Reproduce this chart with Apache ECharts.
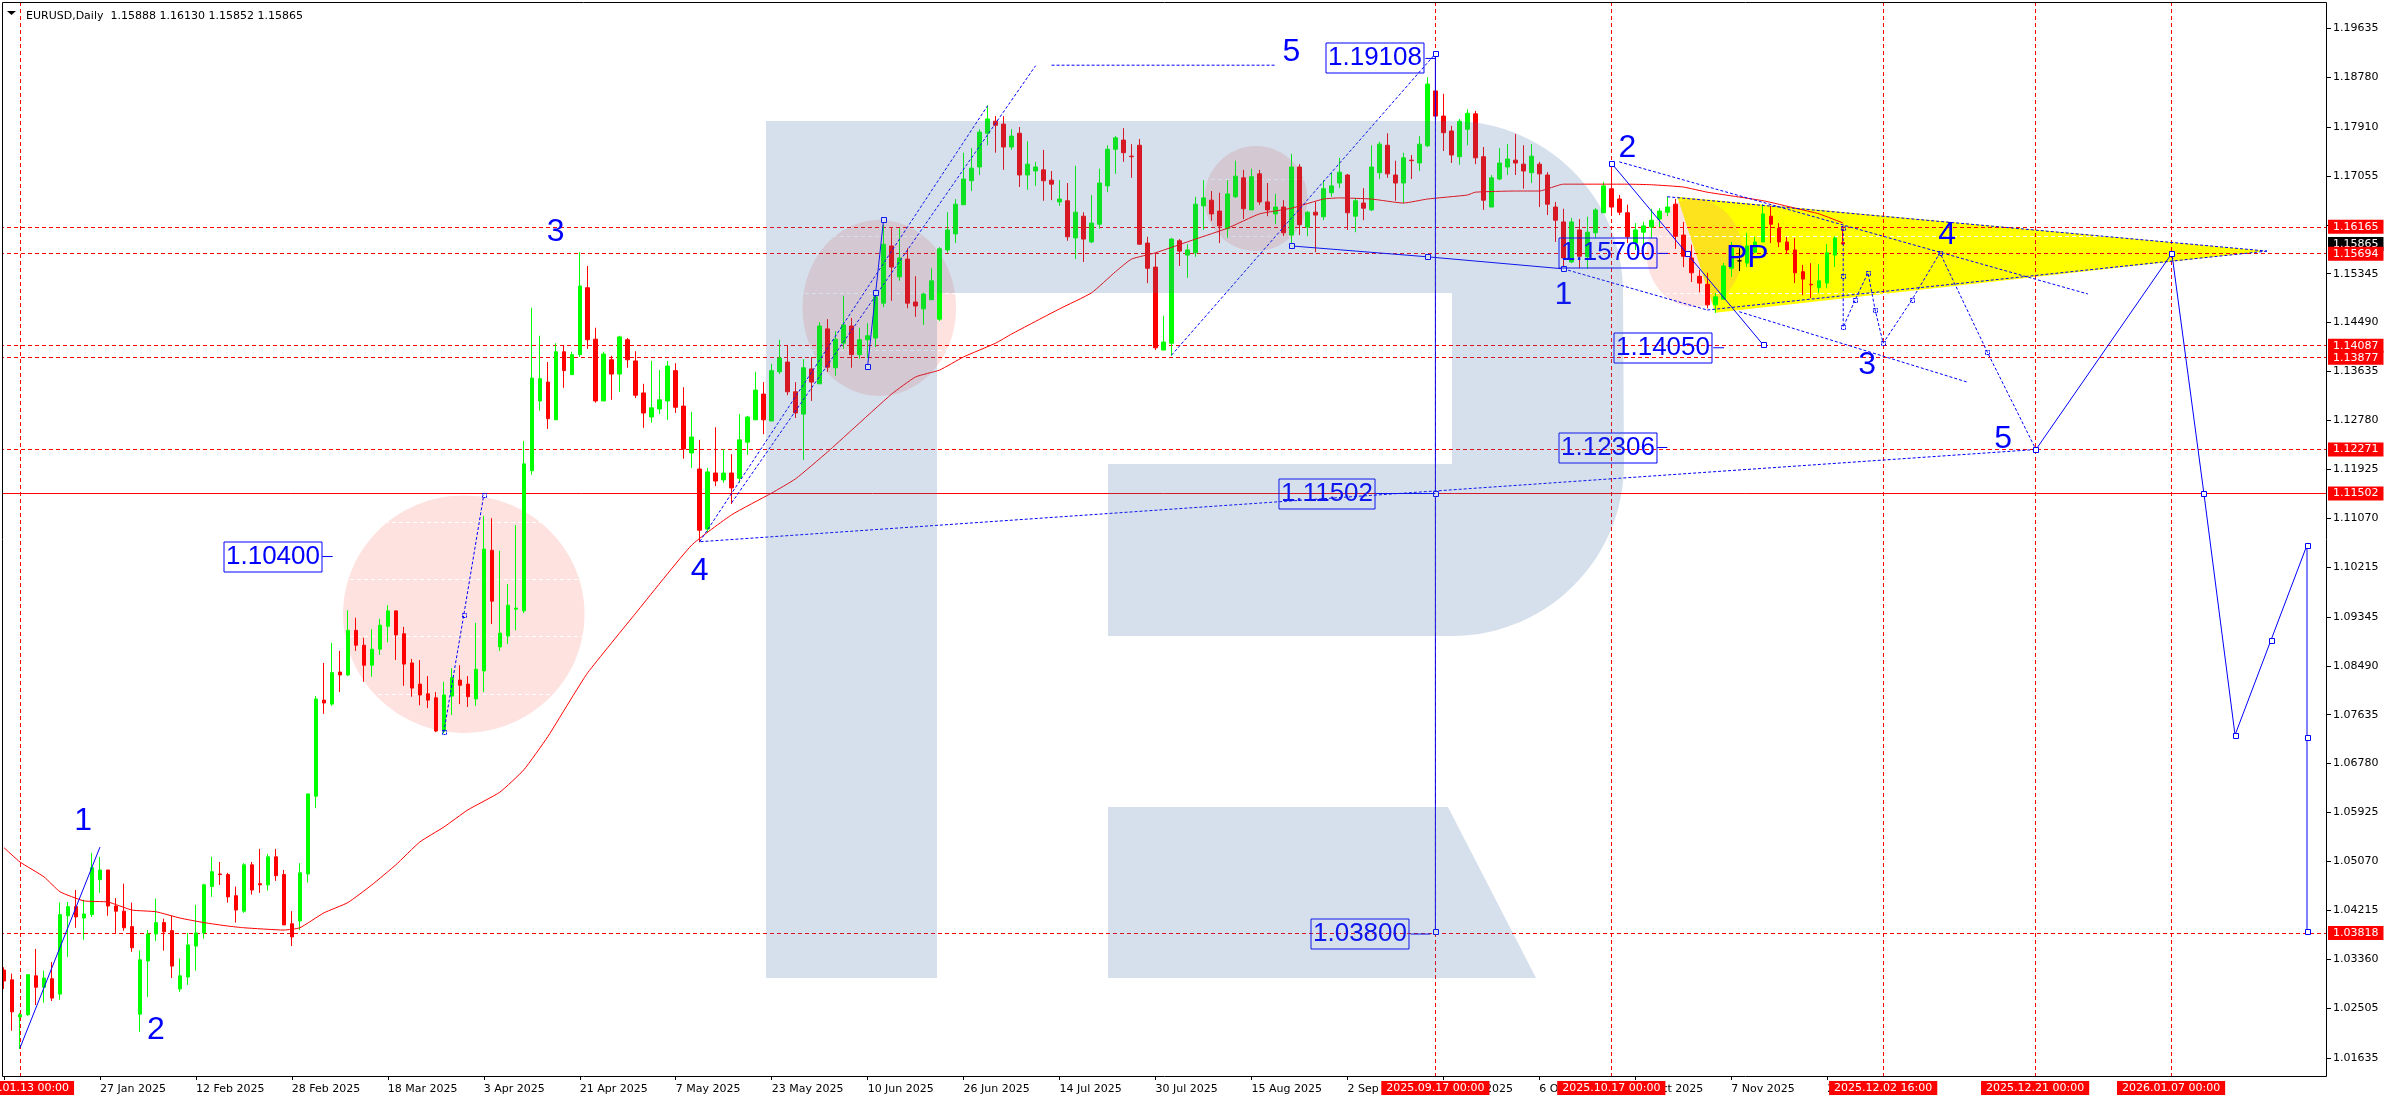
<!DOCTYPE html>
<html><head><meta charset="utf-8">
<style>html,body{margin:0;padding:0;background:#fff}#c{width:2390px;height:1100px}</style>
<script src="https://cdn.jsdelivr.net/npm/echarts@6/dist/echarts.min.js"></script>
</head><body><div id="c"></div>
<script>
// bar rows: [open, high, low, close], starting 9 Jan 2025 (bar -2); bar 0 is 13 Jan 2025
const ohlc = [
[1.0317,1.0322,1.0284,1.0298],[1.0300,1.0311,1.0211,1.0244],[1.0235,1.0242,1.0179,1.0239],[1.0239,1.0309,1.0237,1.0309],
[1.0307,1.0354,1.0256,1.0287],[1.0287,1.0316,1.0260,1.0303],[1.0302,1.0331,1.0263,1.0268],[1.0275,1.0435,1.0265,1.0414],
[1.0412,1.0436,1.0340,1.0428],[1.0428,1.0457,1.0391,1.0410],[1.0408,1.0440,1.0370,1.0415],[1.0414,1.0522,1.0410,1.0496],
[1.0475,1.0515,1.0452,1.0492],[1.0492,1.0492,1.0412,1.0429],[1.0429,1.0443,1.0382,1.0420],[1.0420,1.0468,1.0386,1.0391],
[1.0393,1.0435,1.0349,1.0356],[1.0240,1.0351,1.0209,1.0335],[1.0333,1.0387,1.0270,1.0380],[1.0380,1.0442,1.0368,1.0400],
[1.0400,1.0407,1.0351,1.0384],[1.0386,1.0412,1.0303,1.0324],[1.0284,1.0337,1.0279,1.0307],[1.0305,1.0382,1.0291,1.0361],
[1.0359,1.0431,1.0316,1.0382],[1.0382,1.0468,1.0372,1.0466],[1.0463,1.0515,1.0445,1.0489],[1.0485,1.0506,1.0466,1.0484],
[1.0484,1.0487,1.0435,1.0445],[1.0447,1.0463,1.0400,1.0422],[1.0420,1.0504,1.0417,1.0501],[1.0501,1.0506,1.0449,1.0457],
[1.0468,1.0529,1.0452,1.0466],[1.0466,1.0520,1.0456,1.0515],[1.0515,1.0529,1.0473,1.0482],[1.0484,1.0492,1.0396,1.0396],
[1.0398,1.0420,1.0359,1.0375],[1.0403,1.0504,1.0387,1.0487],[1.0485,1.0625,1.0470,1.0625],[1.0621,1.0796,1.0600,1.0791],
[1.0789,1.0854,1.0765,1.0784],[1.0782,1.0889,1.0779,1.0837],[1.0838,1.0875,1.0803,1.0833],[1.0833,1.0946,1.0831,1.0911],
[1.0911,1.0933,1.0875,1.0885],[1.0885,1.0898,1.0821,1.0850],[1.0850,1.0913,1.0830,1.0878],[1.0878,1.0931,1.0868,1.0920],
[1.0918,1.0955,1.0890,1.0945],[1.0945,1.0946,1.0859,1.0903],[1.0905,1.0917,1.0814,1.0852],[1.0854,1.0861,1.0795,1.0810],
[1.0817,1.0859,1.0780,1.0798],[1.0800,1.0831,1.0775,1.0789],[1.0793,1.0803,1.0733,1.0735],[1.0735,1.0821,1.0731,1.0798],
[1.0796,1.0845,1.0763,1.0828],[1.0824,1.0850,1.0782,1.0815],[1.0817,1.0831,1.0777,1.0795],[1.0791,1.0924,1.0779,1.0843],
[1.0840,1.1111,1.0803,1.1053],[1.1051,1.1107,1.0922,1.0962],[1.0882,1.1050,1.0875,1.0906],[1.0901,1.0992,1.0887,1.0955],
[1.0948,1.1095,1.0911,1.0950],[1.0945,1.1242,1.0941,1.1202],[1.1190,1.1475,1.1183,1.1352],[1.1312,1.1426,1.1295,1.1351],
[1.1345,1.1380,1.1263,1.1281],[1.1279,1.1413,1.1279,1.1398],[1.1398,1.1408,1.1335,1.1365],[1.1358,1.1398,1.1358,1.1393],
[1.1393,1.1572,1.1389,1.1513],[1.1510,1.1548,1.1403,1.1419],[1.1420,1.1440,1.1309,1.1312],[1.1312,1.1398,1.1312,1.1394],
[1.1384,1.1391,1.1314,1.1359],[1.1359,1.1426,1.1328,1.1424],[1.1419,1.1422,1.1370,1.1384],[1.1382,1.1399,1.1317,1.1322],
[1.1326,1.1342,1.1265,1.1291],[1.1284,1.1382,1.1274,1.1300],[1.1298,1.1366,1.1289,1.1314],[1.1312,1.1382,1.1279,1.1373],
[1.1365,1.1378,1.1291,1.1301],[1.1303,1.1336,1.1211,1.1228],[1.1221,1.1293,1.1195,1.1249],[1.1193,1.1244,1.1065,1.1086],
[1.1088,1.1195,1.1083,1.1188],[1.1186,1.1266,1.1163,1.1172],[1.1174,1.1228,1.1169,1.1186],[1.1186,1.1219,1.1132,1.1160],
[1.1177,1.1289,1.1169,1.1244],[1.1240,1.1286,1.1218,1.1284],[1.1279,1.1363,1.1279,1.1331],[1.1324,1.1345,1.1254,1.1279],
[1.1277,1.1377,1.1277,1.1365],[1.1363,1.1419,1.1359,1.1387],[1.1380,1.1408,1.1322,1.1328],[1.1328,1.1345,1.1282,1.1291],
[1.1289,1.1385,1.1209,1.1370],[1.1368,1.1389,1.1312,1.1345],[1.1342,1.1450,1.1342,1.1443],[1.1438,1.1455,1.1363,1.1371],
[1.1370,1.1434,1.1356,1.1420],[1.1413,1.1496,1.1403,1.1445],[1.1443,1.1457,1.1370,1.1393],[1.1393,1.1440,1.1386,1.1419],
[1.1419,1.1448,1.1387,1.1426],[1.1422,1.1501,1.1406,1.1494],[1.1483,1.1620,1.1476,1.1586],[1.1583,1.1614,1.1487,1.1546],
[1.1529,1.1614,1.1522,1.1562],[1.1560,1.1579,1.1474,1.1483],[1.1485,1.1530,1.1459,1.1478],[1.1473,1.1501,1.1445,1.1499],
[1.1489,1.1544,1.1489,1.1522],[1.1455,1.1581,1.1452,1.1578],[1.1576,1.1642,1.1571,1.1611],[1.1604,1.1665,1.1588,1.1656],
[1.1655,1.1746,1.1655,1.1700],[1.1697,1.1754,1.1679,1.1719],[1.1721,1.1787,1.1707,1.1782],[1.1780,1.1829,1.1759,1.1805],
[1.1801,1.1810,1.1746,1.1794],[1.1796,1.1810,1.1716,1.1756],[1.1756,1.1787,1.1751,1.1775],[1.1780,1.1791,1.1686,1.1707],
[1.1707,1.1766,1.1681,1.1726],[1.1714,1.1730,1.1688,1.1721],[1.1716,1.1751,1.1662,1.1697],[1.1698,1.1714,1.1663,1.1691],
[1.1660,1.1698,1.1653,1.1665],[1.1662,1.1693,1.1592,1.1599],[1.1597,1.1723,1.1560,1.1642],[1.1635,1.1642,1.1555,1.1595],
[1.1590,1.1672,1.1588,1.1623],[1.1621,1.1718,1.1613,1.1693],[1.1688,1.1759,1.1677,1.1752],[1.1752,1.1775,1.1709,1.1772],
[1.1768,1.1789,1.1730,1.1746],[1.1740,1.1761,1.1702,1.1739],[1.1759,1.1770,1.1585,1.1586],[1.1588,1.1599,1.1518,1.1544],
[1.1546,1.1571,1.1401,1.1405],[1.1401,1.1461,1.1401,1.1415],[1.1413,1.1597,1.1391,1.1595],[1.1592,1.1595,1.1548,1.1574],
[1.1567,1.1586,1.1527,1.1576],[1.1571,1.1669,1.1564,1.1656],[1.1653,1.1698,1.1611,1.1667],[1.1663,1.1679,1.1627,1.1639],
[1.1644,1.1676,1.1588,1.1618],[1.1613,1.1698,1.1597,1.1674],[1.1669,1.1732,1.1667,1.1705],[1.1702,1.1716,1.1630,1.1648],
[1.1646,1.1718,1.1646,1.1704],[1.1709,1.1716,1.1655,1.1660],[1.1660,1.1693,1.1635,1.1646],[1.1639,1.1674,1.1621,1.1651],
[1.1651,1.1663,1.1600,1.1606],[1.1602,1.1744,1.1585,1.1721],[1.1721,1.1726,1.1602,1.1620],[1.1616,1.1644,1.1600,1.1642],
[1.1642,1.1660,1.1572,1.1637],[1.1634,1.1698,1.1628,1.1683],[1.1676,1.1711,1.1669,1.1688],[1.1693,1.1737,1.1684,1.1712],
[1.1707,1.1709,1.1611,1.1641],[1.1635,1.1667,1.1607,1.1662],[1.1658,1.1684,1.1628,1.1649],[1.1646,1.1759,1.1644,1.1721],
[1.1711,1.1765,1.1700,1.1761],[1.1759,1.1780,1.1702,1.1709],[1.1707,1.1732,1.1662,1.1693],[1.1693,1.1746,1.1658,1.1737],
[1.1733,1.1742,1.1700,1.1732],[1.1728,1.1775,1.1714,1.1761],[1.1758,1.1878,1.1756,1.1866],[1.1854,1.1912,1.1803,1.1810],
[1.1810,1.1849,1.1749,1.1781],[1.1784,1.1793,1.1728,1.1742],[1.1739,1.1805,1.1725,1.1801],[1.1787,1.1822,1.1759,1.1815],
[1.1814,1.1819,1.1726,1.1737],[1.1739,1.1756,1.1646,1.1663],[1.1651,1.1707,1.1651,1.1702],[1.1700,1.1754,1.1698,1.1728],
[1.1721,1.1761,1.1707,1.1735],[1.1733,1.1779,1.1707,1.1728],[1.1726,1.1759,1.1683,1.1714],[1.1711,1.1761,1.1693,1.1740],
[1.1726,1.1730,1.1651,1.1709],[1.1707,1.1712,1.1637,1.1656],[1.1651,1.1660,1.1590,1.1628],[1.1625,1.1648,1.1544,1.1562],
[1.1555,1.1632,1.1553,1.1625],[1.1611,1.1630,1.1544,1.1565],[1.1564,1.1634,1.1543,1.1607],[1.1606,1.1649,1.1597,1.1646],
[1.1641,1.1695,1.1641,1.1688],[1.1683,1.1730,1.1642,1.1651],[1.1665,1.1672,1.1637,1.1642],[1.1641,1.1655,1.1588,1.1599],
[1.1588,1.1623,1.1576,1.1611],[1.1607,1.1625,1.1585,1.1618],[1.1616,1.1648,1.1597,1.1628],[1.1630,1.1649,1.1616,1.1644],
[1.1642,1.1669,1.1635,1.1651],[1.1656,1.1665,1.1578,1.1600],[1.1602,1.1625,1.1546,1.1565],[1.1562,1.1585,1.1520,1.1536],
[1.1530,1.1541,1.1502,1.1518],[1.1516,1.1536,1.1474,1.1480],[1.1480,1.1501,1.1466,1.1494],[1.1490,1.1553,1.1489,1.1548],
[1.1544,1.1590,1.1529,1.1579],[1.1557,1.1579,1.1539,1.1557],[1.1553,1.1606,1.1546,1.1583],[1.1572,1.1599,1.1571,1.1590],
[1.1590,1.1656,1.1590,1.1639],[1.1635,1.1653,1.1588,1.1621],[1.1614,1.1623,1.1581,1.1590],[1.1590,1.1599,1.1569,1.1576],
[1.1576,1.1597,1.1518,1.1536],[1.1538,1.1550,1.1497,1.1525],[1.1516,1.1553,1.1492,1.1515],[1.1510,1.1551,1.1501,1.1522],
[1.1518,1.1586,1.1509,1.1571],[1.1567,1.1600,1.1546,1.1597],[1.15888,1.16130,1.15852,1.15865]
];
const firstBarDate = '2025-01-09';
const barCount = 291;
const tickLabelDates = ['9 Jan 2025','27 Jan 2025','12 Feb 2025','28 Feb 2025','18 Mar 2025','3 Apr 2025','21 Apr 2025','7 May 2025','23 May 2025','10 Jun 2025','26 Jun 2025','14 Jul 2025','30 Jul 2025','15 Aug 2025','2 Sep 2025','18 Sep 2025','6 Oct 2025','22 Oct 2025','7 Nov 2025','25 Nov 2025'];
const priceGrid = [1.19635,1.18780,1.17910,1.17055,1.16200,1.15345,1.14490,1.13635,1.12780,1.11925,1.11070,1.10215,1.09345,1.08490,1.07635,1.06780,1.05925,1.05070,1.04215,1.03360,1.02505,1.01635];
const priceLabelsHidden = [1.16200];
const priceMin = 1.01301, priceMax = 1.20086;

const maBars = [-2,0,3,5,8,11,14,17,20,23,26,28,33,35,38,41,44,47,50,53,56,60,63,66,69,71,77,84,89,94,97,101,104,109,112,115,118,122,124,130,134,137,139,142,147,151,155,159,163,165,169,173,176,181,182,187,190,193,197,201,204,208,211,218,222,225,228];
const maValues = [1.0531,1.0506,1.0480,1.0454,1.0438,1.0436,1.0422,1.0419,1.0408,1.0400,1.0394,1.0391,1.0387,1.0391,1.0417,1.0435,1.0466,1.0501,1.0541,1.0567,1.0597,1.0628,1.0667,1.0725,1.0793,1.0837,1.0941,1.1060,1.1113,1.1151,1.1176,1.1223,1.1261,1.1324,1.1354,1.1366,1.1389,1.1413,1.1429,1.1473,1.1501,1.1538,1.1560,1.1571,1.1595,1.1614,1.1639,1.1649,1.1665,1.1667,1.1665,1.1658,1.1665,1.1672,1.1677,1.1679,1.1679,1.1691,1.1691,1.1691,1.1690,1.1686,1.1677,1.1662,1.1649,1.1639,1.1623];

const dashedLevels = [1.16165,1.15694,1.14087,1.13877,1.12271,1.03818];
const solidLevel = 1.11502;
const currentPrice = 1.15865;
const timeMarkBars = [0,177,199,233,252,269];
const timeMarkLabels = ['2025.01.13 00:00','2025.09.17 00:00','2025.10.17 00:00','2025.12.02 16:00','2025.12.21 00:00','2026.01.07 00:00'];

const triangle = [[207.25,1.1669],[212,1.1466],[281,1.1574]];
const ellipseCenters = [[55.5,1.0939],[107.46,1.14745],[154.56,1.1666],[209.4,1.15707]];
const ellipseRadii = [[15.1,0.02075],[9.6,0.01538],[6.44,0.00918],[6,0.00944]];

const solidPaths = [
  [[106,1.1373],[107,1.1501],[108,1.1630]],
  [[159,1.1583],[176,1.1564],[193,1.1543]],
  [[199,1.1728],[208.5,1.1569],[218,1.1410]],
  [[252.1,1.12271],[269.1,1.1570],[273.1,1.1151],[277,1.0728],[281.5,1.0894],[286,1.1060],[286,1.0723],[286,1.0384]],
  [[177,1.1919],[177,1.1151],[177,1.0384]]
];
const thinLines = [ [[0,1.0181],[10,1.0532]] ];
const dashedPaths = [
  [[53,1.0733],[55.5,1.0938],[58,1.1148]],
  [[228,1.1614],[228,1.1530],[228,1.1441],[229.5,1.1489],[231.1,1.1536],[232,1.1471],[233,1.1413],[236.6,1.1489],[240.1,1.1571],[246,1.1398],[252.1,1.12271]]
];
const dashedLines = [
  [[85.1,1.1066],[252.1,1.12271]],
  [[85,1.1066],[121,1.1828]],
  [[89,1.1134],[127,1.1898]],
  [[129,1.1899],[157,1.1899]],
  [[144,1.1392],[177,1.1919]],
  [[193,1.1543],[211,1.1471]],
  [[215,1.1468],[243.5,1.1345]],
  [[200,1.1730],[258.6,1.1499]],
  [[206,1.1669],[281,1.1574]],
  [[211,1.1471],[281,1.1574]]
];
const priceBoxValues = [1.19108,1.15700,1.14050,1.12306,1.11502,1.10400,1.03800];
const priceBoxBars = [169.5,198.6,205.5,198.6,163.5,31.6,167.6];
const priceBoxLeaders = [[175.75,177],[204.8,206.1],[211.75,213.1],[204.75,206],[169.6,177],[37.8,39.1],[173.9,176.4]];
const waveTexts = ['1','2','3','4','5','1','2','3','4','5','PP'];
const waveBars = [7.9,17,67,85,159,193,201,231,241,248,216];
const wavePrices = [1.0578,1.0212,1.1607,1.1015,1.1922,1.1497,1.1754,1.1375,1.1602,1.1246,1.1562];
const titleText = 'EURUSD,Daily  1.15888 1.16130 1.15852 1.15865';

const UI_FONT = '"DejaVu Sans"';
const BLUE = '#0000ff', RED = '#ff0000';

// weekday categories
const MONTHS = ['Jan','Feb','Mar','Apr','May','Jun','Jul','Aug','Sep','Oct','Nov','Dec'];
const categories = [];
for (let d = new Date(firstBarDate + 'T00:00:00Z'); categories.length < barCount; d.setUTCDate(d.getUTCDate() + 1)) {
  const w = d.getUTCDay();
  if (w !== 0 && w !== 6) categories.push(d.getUTCDate() + ' ' + MONTHS[d.getUTCMonth()] + ' ' + d.getUTCFullYear());
}
const OFFSET = 2; // bar 0 is the third category
const showTick = (idx, val) => tickLabelDates.includes(val);
const at = (api, bar, price) => {
  const k = bar + OFFSET, f = Math.floor(k);
  const pt = api.coord([f, price]);
  return [pt[0] + (k - f) * api.size([1, 0])[0], pt[1]];
};
const drawn = (z, build) => ({
  type: 'custom', coordinateSystem: 'cartesian2d', z, silent: true, clip: false,
  data: [[0, priceGrid[0]]],
  renderItem: (params, api) => ({ type: 'group', children: build(api) })
});
const poly = (api, pts, lineWidth, dash) => ({
  type: 'polyline', shape: { points: pts.map(p => at(api, p[0], p[1])) },
  style: { stroke: BLUE, fill: 'none', lineWidth, lineDash: dash || null }
});
const square = (api, p, size, fill, dash) => {
  const c = at(api, p[0], p[1]);
  return { type: 'rect', shape: { x: Math.round(c[0] - size / 2) + .5, y: Math.round(c[1] - size / 2) + .5, width: size, height: size },
    style: { stroke: BLUE, fill, lineWidth: 1, lineDash: dash || null } };
};

// watermark outline
const arc = (cx, cy, r, from, to) => {
  const out = [];
  for (let n = 0; n <= 30; n++) { const a = (from + (to - from) * n / 30) * Math.PI / 180; out.push([cx + r * Math.cos(a), cy + r * Math.sin(a)]); }
  return out;
};
const WM = 'rgba(65,111,167,0.216)';
const wmBody = [[766,121]].concat(arc(1452,292,171,-90,0), arc(1452,464,172,0,90),
  [[1108,636],[1108,464],[1452,464],[1452,293],[937,293],[937,978],[766,978]]);
const wmLeg = [[1108,807],[1448,807],[1536,978],[1108,978]];

const levelLine = (p, type) => ({ yAxis: p, lineStyle: { color: RED, type, width: 1 },
  label: { show: true, position: 'end', distance: 1, formatter: p.toFixed(5), color: '#fff', backgroundColor: RED, padding: [2, 5, 1, 5], fontFamily: UI_FONT, fontSize: 11 } });

const option = {
  animation: false,
  backgroundColor: '#fff',
  title: { text: titleText, left: 21, top: 6, textStyle: { fontFamily: UI_FONT, fontSize: 11, fontWeight: 'normal', color: '#000' } },
  grid: { left: -1, top: 2.5, width: 2328, height: 1074.5, containLabel: false },
  xAxis: {
    type: 'category', data: categories, boundaryGap: true, position: 'bottom',
    axisLine: { show: false },
    axisTick: { show: true, alignWithLabel: true, interval: showTick, length: 3, lineStyle: { color: '#000' } },
    axisLabel: { interval: showTick, align: 'left', margin: 7, color: '#000', fontFamily: UI_FONT, fontSize: 11, hideOverlap: false },
    splitLine: { show: false }
  },
  yAxis: {
    type: 'value', position: 'right', min: priceMin, max: priceMax, scale: true,
    axisLine: { show: false },
    axisTick: { show: true, length: 4, customValues: priceGrid, lineStyle: { color: '#000' } },
    axisLabel: { margin: 6, color: '#000', fontFamily: UI_FONT, fontSize: 11,
      customValues: priceGrid.filter(v => !priceLabelsHidden.includes(v)), formatter: v => v.toFixed(5) },
    splitLine: { show: false }
  },
  graphic: { elements: [
    { type: 'polygon', z: 100, silent: true, shape: { points: wmBody }, style: { fill: WM } },
    { type: 'polygon', z: 100, silent: true, shape: { points: wmLeg }, style: { fill: WM } },
    { type: 'rect', z: 101, silent: true, shape: { x: 0, y: 0, width: 2, height: 1078 }, style: { fill: '#fff' } },
    { type: 'rect', z: 102, silent: true, shape: { x: 2.5, y: 2.5, width: 2324, height: 1074 }, style: { fill: 'none', stroke: '#000', lineWidth: 1 } },
    { type: 'polygon', z: 102, silent: true, shape: { points: [[7,11],[16,11],[11.5,15]] }, style: { fill: '#000' } }
  ] },
  series: [
    drawn(1, api => [{ type: 'polygon', shape: { points: triangle.map(p => at(api, p[0], p[1])) }, style: { fill: '#ffff00' } }]),
    drawn(2, api => ellipseCenters.map((c, n) => {
      const o = at(api, c[0], c[1]);
      const e = at(api, c[0] + ellipseRadii[n][0], c[1] + ellipseRadii[n][1]);
      return { type: 'ellipse', shape: { cx: o[0], cy: o[1], rx: e[0] - o[0], ry: o[1] - e[1] }, style: { fill: 'rgba(246,133,125,0.24)' } };
    })),
    { type: 'line', z: 3, silent: true, data: [], markLine: { silent: true, animation: false, symbol: ['none', 'none'],
      lineStyle: { color: '#fff', type: [4, 3], width: 1 }, label: { show: false },
      data: priceGrid.map(p => ({ yAxis: p })) } },
    { type: 'line', z: 4, silent: true, data: [], markLine: { silent: true, animation: false, symbol: ['none', 'none'], precision: 5,
      data: [
        { yAxis: currentPrice, lineStyle: { color: 'transparent', width: 0 },
          label: { show: true, position: 'end', distance: 1, formatter: currentPrice.toFixed(5), color: '#fff', backgroundColor: '#000', padding: [2, 5, 1, 5], fontFamily: UI_FONT, fontSize: 11 } },
        levelLine(solidLevel, 'solid')
      ].concat(dashedLevels.map(p => levelLine(p, [4, 3])), timeMarkBars.map((b, n) => ({
        xAxis: categories[b + OFFSET], lineStyle: { color: RED, type: [4, 3], width: 1 },
        label: { show: true, position: 'start', distance: 4, formatter: timeMarkLabels[n], color: '#fff', backgroundColor: RED, padding: [2, 5, 1, 5], fontFamily: UI_FONT, fontSize: 11 }
      }))) } },
    { type: 'candlestick', z: 5, silent: true, barWidth: 4,
      itemStyle: { color: '#00ff00', color0: RED, borderColor: '#00ff00', borderColor0: RED, borderColorDoji: '#000', borderWidth: 1 },
      data: ohlc.map(r => [r[0], r[3], r[2], r[1]]) },
    { type: 'line', z: 6, silent: true, showSymbol: false, symbol: 'none', smooth: 0.15, lineStyle: { color: RED, width: 1 },
      data: maBars.map((b, n) => [b + OFFSET, maValues[n]]) },
    drawn(7, api => {
      const out = [];
      dashedLines.forEach(l => out.push(poly(api, l, 1, [3, 2])));
      dashedPaths.forEach(l => { out.push(poly(api, l, 1, [3, 2])); });
      thinLines.forEach(l => out.push(poly(api, l, 1)));
      solidPaths.forEach(l => out.push(poly(api, l, 1)));
      dashedPaths.forEach(l => l.forEach(p => out.push(square(api, p, 4, 'none', [2, 1]))));
      solidPaths.forEach(l => l.forEach(p => out.push(square(api, p, 5, '#fff'))));
      priceBoxValues.forEach((v, n) => {
        out.push(poly(api, [[priceBoxLeaders[n][0], v], [priceBoxLeaders[n][1], v]], 1));
        const c = at(api, priceBoxBars[n], v);
        out.push({ type: 'text', x: Math.round(c[0]), y: Math.round(c[1]),
          style: { text: v.toFixed(5), fill: BLUE, font: '26px "Liberation Sans"', align: 'center', verticalAlign: 'middle',
            textAlign: 'center', textVerticalAlign: 'middle', lineHeight: 29, padding: [1, 2, 0, 2], borderColor: BLUE, borderWidth: 1 } });
      });
      waveTexts.forEach((t, n) => {
        const c = at(api, waveBars[n], wavePrices[n]);
        out.push({ type: 'text', x: c[0], y: c[1],
          style: { text: t, fill: BLUE, font: '32px "Liberation Sans"', align: 'center', verticalAlign: 'middle', textAlign: 'center', textVerticalAlign: 'middle' } });
      });
      return out;
    })
  ]
};
echarts.init(document.getElementById('c'), null, { renderer: 'canvas' }).setOption(option);
</script></body></html>
